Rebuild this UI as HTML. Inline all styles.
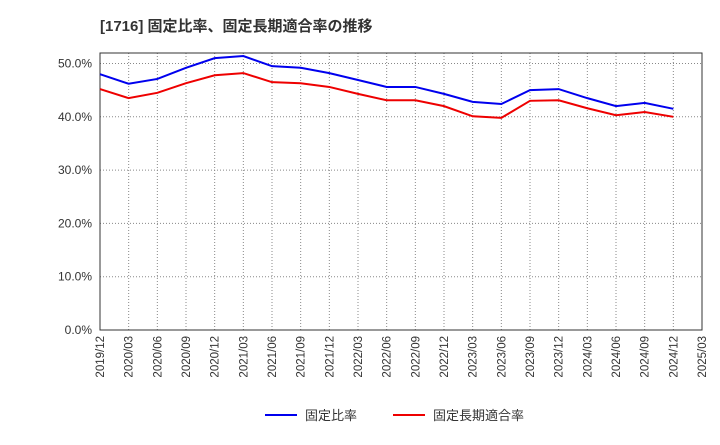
<!DOCTYPE html>
<html><head><meta charset="utf-8"><style>
body{margin:0;background:#fff;width:720px;height:440px;overflow:hidden;font-family:"Liberation Sans","Noto Sans CJK JP",sans-serif;}
svg text{font-family:"Liberation Sans","Noto Sans CJK JP",sans-serif;}
</style></head><body>
<svg id="chart" width="720" height="440">
<text x="100" y="31" font-size="15" font-weight="bold" fill="#333">[1716]  固定比率、固定長期適合率の推移</text>
<g id="grid"></g><g id="axes"></g><g id="series"></g>
<g>
<line x1="265" y1="415" x2="297" y2="415" stroke="#0000ee" stroke-width="2"/>
<text x="305" y="420" font-size="13" fill="#333">固定比率</text>
<line x1="393" y1="415" x2="425" y2="415" stroke="#ee0000" stroke-width="2"/>
<text x="433" y="420" font-size="13" fill="#333">固定長期適合率</text>
</g>
</svg>
<script>
const categories=["2019/12","2020/03","2020/06","2020/09","2020/12","2021/03","2021/06","2021/09","2021/12","2022/03","2022/06","2022/09","2022/12","2023/03","2023/06","2023/09","2023/12","2024/03","2024/06","2024/09","2024/12","2025/03"];
const fixedRatio=[48.0,46.2,47.1,49.2,51.0,51.4,49.5,49.2,48.2,46.9,45.6,45.6,44.3,42.8,42.4,45.0,45.2,43.5,42.0,42.6,41.5];
const fixedLongTermRatio=[45.2,43.5,44.5,46.3,47.8,48.2,46.5,46.3,45.6,44.3,43.1,43.1,42.0,40.1,39.8,43.0,43.1,41.6,40.3,40.9,40.0];
const yTicks=[0,10,20,30,40,50];
const L=100,R=702,T=53,B=330;
const x=i=>L+(R-L)*i/(categories.length-1);
const y=v=>B-(B-63.5)*v/50;
const ns="http://www.w3.org/2000/svg";
function mk(tag,attrs,parent){const e=document.createElementNS(ns,tag);for(const k in attrs)e.setAttribute(k,attrs[k]);parent.appendChild(e);return e;}
const grid=document.getElementById('grid'),axes=document.getElementById('axes'),series=document.getElementById('series');
yTicks.forEach(v=>{
 const l=mk('line',{x1:L,x2:R,y1:y(v),y2:y(v),stroke:'#888','stroke-dasharray':'1,2'},grid);
 
 
 const t=mk('text',{x:L-8,y:y(v)+4,'text-anchor':'end','font-size':'12',fill:'#333'},axes);
 t.textContent=v.toFixed(1)+'%';
 
 
});
categories.forEach((c,i)=>{
 const l=mk('line',{x1:x(i),x2:x(i),y1:T,y2:B,stroke:'#888','stroke-dasharray':'1,2'},grid);
 
 
 const t=mk('text',{x:0,y:0,'text-anchor':'end','font-size':'11.5',fill:'#333',transform:`translate(${x(i)+4},${B+6}) rotate(-90)`},axes);
 t.textContent=c;
 
 
});
const frame=mk('rect',{x:L,y:T,width:R-L,height:B-T,fill:'none',stroke:'#333'},axes);


function line(vals,color,name){
 const p=mk('polyline',{points:vals.map((v,i)=>x(i)+','+y(v)).join(' '),fill:'none',stroke:color,'stroke-width':2},series);
 
 
}
line(fixedLongTermRatio,'#ee0000','fixed-long-term-ratio-line');
line(fixedRatio,'#0000ee','fixed-ratio-line');
</script>
</body></html>
